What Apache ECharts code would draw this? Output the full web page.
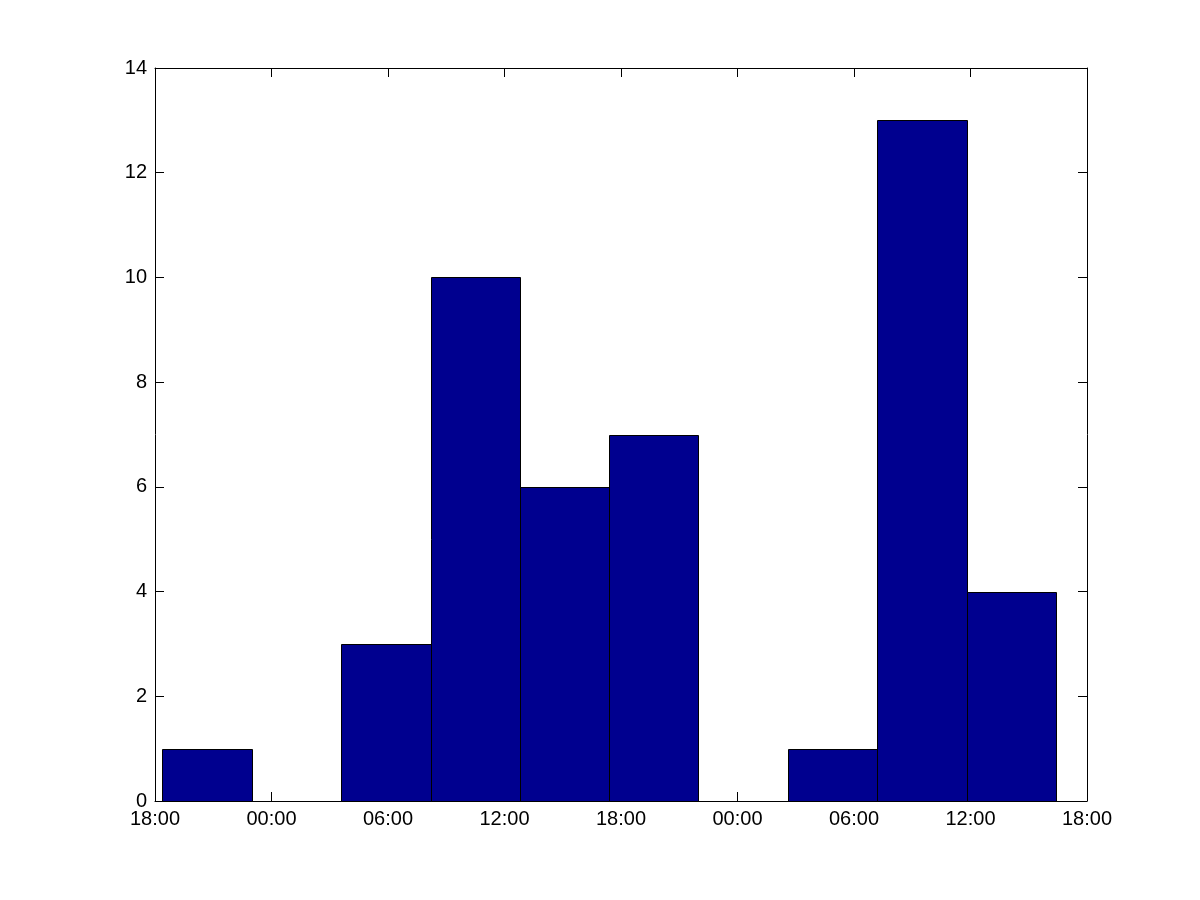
<!DOCTYPE html>
<html>
<head>
<meta charset="utf-8">
<script src="https://cdn.jsdelivr.net/npm/echarts@6/dist/echarts.min.js"></script>
<style>html,body{margin:0;padding:0;background:#fff}#c{width:1200px;height:900px}</style>
</head>
<body>
<div id="c"></div>
<script>
// Hours since first 18:00 tick
const binEdges = [0.38, 4.98, 9.58, 14.19, 18.79, 23.39, 27.99, 32.60, 37.20, 41.80, 46.41];
const counts = [1, 0, 3, 10, 6, 7, 0, 1, 13, 4];
const xTickLabels = ['18:00', '00:00', '06:00', '12:00', '18:00', '00:00', '06:00', '12:00', '18:00'];
const yTicks = [0, 2, 4, 6, 8, 10, 12, 14];

const data = counts.map((c, i) => [binEdges[i], binEdges[i + 1], c]);

const chart = echarts.init(document.getElementById('c'), null, {renderer: 'canvas'});
const font = {fontFamily: 'Liberation Sans, Arial, sans-serif', fontSize: 20, color: '#000'};
const axisLine = {show: true, onZero: false, lineStyle: {color: '#000', width: 1}};
const tick = {show: true, inside: true, length: 9, lineStyle: {color: '#000', width: 1}};

chart.setOption({
  animation: false,
  backgroundColor: '#fff',
  grid: {left: 155, right: 113, top: 68, bottom: 99, containLabel: false},
  xAxis: [
    {type: 'value', min: 0, max: 48, interval: 6, position: 'bottom',
     axisLine: axisLine, axisTick: tick, splitLine: {show: false},
     axisLabel: Object.assign({margin: 8, formatter: (v) => xTickLabels[Math.round(v / 6)]}, font)},
    {type: 'value', min: 0, max: 48, interval: 6, position: 'top',
     axisLine: axisLine, axisTick: tick, splitLine: {show: false}, axisLabel: {show: false}}
  ],
  yAxis: [
    {type: 'value', min: yTicks[0], max: yTicks[yTicks.length - 1], interval: 2, position: 'left',
     axisLine: axisLine, axisTick: tick, splitLine: {show: false},
     axisLabel: Object.assign({margin: 8}, font)},
    {type: 'value', min: yTicks[0], max: yTicks[yTicks.length - 1], interval: 2, position: 'right',
     axisLine: axisLine, axisTick: tick, splitLine: {show: false}, axisLabel: {show: false}}
  ],
  series: [{
    type: 'custom',
    xAxisIndex: 0, yAxisIndex: 0,
    data: data,
    encode: {x: [0, 1], y: 2},
    renderItem: function (params, api) {
      const x0 = api.value(0), x1 = api.value(1), v = api.value(2);
      if (!v) return null;
      const p0 = api.coord([x0, v]);
      const p1 = api.coord([x1, 0]);
      return {
        type: 'rect',
        shape: {x: Math.round(p0[0]) + 0.5, y: Math.round(p0[1]) + 0.5, width: Math.round(p1[0]) - Math.round(p0[0]), height: Math.round(p1[1]) - Math.round(p0[1])},
        style: {fill: '#00008F', stroke: '#000', lineWidth: 1}
      };
    }
  }]
});
</script>
</body>
</html>
